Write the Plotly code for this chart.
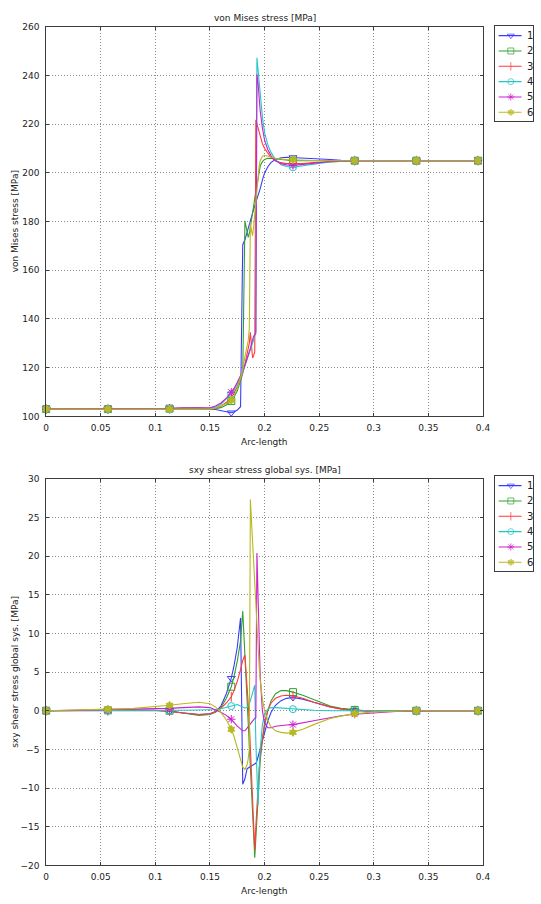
import plotly.graph_objects as go

# Arc-length sample positions shared by every series (m)
ARC = [0, 0.02, 0.0565, 0.08, 0.1, 0.113, 0.125, 0.14, 0.15, 0.155,
       0.16, 0.165, 0.1695, 0.172, 0.175, 0.178, 0.18, 0.182, 0.184, 0.185,
       0.186, 0.187, 0.188, 0.189, 0.19, 0.191, 0.192, 0.193, 0.194, 0.195,
       0.196, 0.198, 0.2, 0.203, 0.206, 0.21, 0.215, 0.22, 0.226, 0.235,
       0.245, 0.26, 0.27, 0.2825, 0.3, 0.32, 0.339, 0.36, 0.38, 0.3955]

# samples that carry a marker symbol
MARK_IDX = [0, 2, 5, 12, 38, 43, 46, 49]

SERIES = ["1", "2", "3", "4", "5", "6"]

# von Mises stress [MPa]
VM_1 = [103, 103, 103, 103, 103.1, 103.2, 103.3, 103.2, 103, 102.8,
        102.4, 101.8, 101.5, 101.8, 102.6, 104, 170.5, 172.5, 176, 177.5,
        179, 180.5, 182, 183.5, 185, 186.3, 187.6, 189, 190.5, 192,
        193.5, 197, 200, 202.5, 204.3, 205.5, 206.2, 206.4, 206.3, 206.2,
        205.9, 205.5, 205.2, 205, 205, 205, 205, 205, 205, 205]
VM_2 = [103, 103, 103, 103, 103.1, 103.2, 103.4, 103.5, 103.2, 103.2,
        103.6, 104.7, 106.3, 107.8, 110.5, 115, 117.5, 180.3, 176, 173.5,
        175, 177.5, 180, 183, 186.5, 189.5, 192.5, 195.5, 198.5, 201,
        202.8, 204.6, 205.5, 206, 206, 205.8, 205.5, 205.2, 205, 205,
        205, 205, 205, 205, 205, 205, 205, 205, 205, 205]
VM_3 = [103, 103, 103, 103, 103, 103.1, 103.2, 103.2, 103.1, 103.3,
        104.2, 105.8, 107.8, 109.5, 112.2, 115.5, 118, 121.5, 125.5, 127.5,
        130, 134.5, 128, 124, 125, 126.5, 221.8, 220, 218.2, 216.2,
        214.5, 212, 210, 208, 206.3, 205, 204.2, 203.8, 203.7, 203.8,
        204.2, 204.6, 204.8, 205, 205, 205, 205, 205, 205, 205]
VM_4 = [103, 103, 103, 102.9, 102.9, 103, 102.8, 102.9, 103.2, 103.8,
        105, 107, 109.2, 110.8, 113.2, 116, 118, 120.5, 123, 124.3,
        125.5, 127, 128.5, 130, 131.5, 133, 135, 247.3, 242, 236,
        231, 223, 216.5, 211.5, 208.3, 205.5, 203.3, 202.6, 202.3, 202.8,
        203.6, 204.5, 204.8, 205, 205, 205, 205, 205, 205, 205]
VM_5 = [103, 103, 103, 103, 103.1, 103.3, 103.5, 103.4, 103.5, 104.3,
        105.5, 107.5, 109.9, 111.5, 114, 116.5, 118.5, 121, 123.5, 125,
        126.5, 128, 129.8, 131.5, 133, 133.5, 134, 240.5, 237, 231,
        225.5, 218.5, 213.4, 209.5, 207, 205, 203.8, 203.3, 203.1, 203.5,
        204.1, 204.7, 204.9, 205, 205, 205, 205, 205, 205, 205]
VM_6 = [103, 103, 103, 103, 103, 103, 103, 103.1, 103, 103.4,
        104.2, 105.3, 106.6, 108.3, 111.5, 115.5, 119, 124.5, 128.5, 131,
        136, 179.6, 176.5, 174.2, 178, 183, 188.5, 194, 199, 202.5,
        205, 206.8, 207.2, 207, 206.5, 206, 205.7, 205.5, 205.4, 205.2,
        205.1, 205, 205, 205, 205, 205, 205, 205, 205, 205]

# sxy shear stress, global system [MPa]
SXY_1 = [0, 0, 0.05, 0.1, 0.05, -0.1, -0.3, -0.5, -0.4, -0.1,
         0.6, 2.2, 4.2, 5.8, 8.2, 12.0, -9.5, -8.8, -7.5, -7.4,
         -7.3, -7.2, -7.2, -7.1, -7.0, -6.9, -6.8, -6.5, -6.0, -5.4,
         -4.8, -3.7, -2.7, -1.3, -0.2, 0.7, 1.3, 1.6, 1.7, 1.5,
         1.1, 0.5, 0.25, 0.05, -0.05, 0, 0, 0, 0, 0]
SXY_2 = [0, 0, 0.05, 0.1, 0.05, 0, -0.3, -0.6, -0.5, -0.2,
         0.4, 1.6, 3.1, 4.4, 6.4, 9.0, 12.9, 7.5, 1.5, -1.5,
         -4.5, -7.5, -10, -13, -16, -19, -16.5, -13.5, -11, -8.5,
         -6.5, -3.8, -2, 0, 1.3, 2.2, 2.6, 2.6, 2.4, 2.0,
         1.4, 0.6, 0.3, 0.1, -0.1, -0.05, 0, 0, 0, 0]
SXY_3 = [0, 0, 0, 0.05, 0, -0.05, -0.3, -0.5, -0.4, -0.15,
         0.3, 1.0, 1.8, 2.6, 3.8, 5.3, 6.5, 7.2, 3.5, 1.0,
         -1.5, -4.5, -7.5, -11, -14.5, -18, -15, -12, -9.5, -7.5,
         -5.8, -3.3, -1.5, 0.1, 1.0, 1.6, 1.9, 2.0, 1.9, 1.6,
         1.1, 0.5, 0.2, 0, -0.1, -0.05, 0, 0, 0, 0]
SXY_4 = [0, 0, 0, 0, 0, 0, 0.05, 0.1, 0.1, 0.15,
         0.25, 0.45, 0.6, 0.75, 0.8, 0.6, 0.45, 0.35, 0.4, 0.6,
         0.9, 1.3, 1.8, 2.3, 2.8, 3.3, -4, -9.5, -12.2, -8,
         -5, -1.8, -0.4, 0.2, 0.4, 0.4, 0.35, 0.3, 0.2, 0.1,
         0.05, 0, 0, 0, 0, 0, 0, 0, 0, 0]
SXY_5 = [0, 0.05, 0.1, 0.15, 0.2, 0.3, 0.4, 0.5, 0.4, 0.15,
         -0.2, -0.6, -1.1, -1.5, -2.0, -2.4, -2.6, -2.6, -2.3, -2.1,
         -1.9, -1.7, -1.5, -1.3, -1.1, -1.0, -0.9, 20.4, 15, 9,
         4.5, 0, -1.6, -2.2, -2.2, -2.0, -1.9, -1.85, -1.8, -1.6,
         -1.3, -0.9, -0.65, -0.45, -0.25, -0.1, 0, 0, 0, 0]
SXY_6 = [0, 0.1, 0.2, 0.3, 0.5, 0.7, 0.9, 1.1, 0.9, 0.5,
         -0.2, -1.2, -2.4, -3.3, -4.8, -6.3, -7.3, -7.6, -7.0, -6.2,
         -5.0, 27.3, 24.5, 21.5, 18.5, 15.5, 12.5, 10, 7.8, 5.8,
         4.0, 1.5, 0, -1.3, -2.1, -2.6, -2.8, -2.9, -2.8, -2.4,
         -1.8, -1.0, -0.7, -0.4, -0.15, -0.05, 0, 0, 0, 0]

VM = [VM_1, VM_2, VM_3, VM_4, VM_5, VM_6]
SXY = [SXY_1, SXY_2, SXY_3, SXY_4, SXY_5, SXY_6]

COLORS = ["#3a3aff", "#30a030", "#ff3a3a", "#20c8c8", "#cc20cc", "#b8b820"]
SYMBOLS = ["triangle-down-open", "square-open", "line-ns-open",
           "circle-open", "asterisk-open", "hexagram"]
SIZES = [7, 7, 7, 7, 7, 6]

FONT = "DejaVu Sans"
TXT = "#222222"
W, H = 541, 904

# figure-pixel layout helpers (the paper spans the whole page)
def fx(p):
    return p / W


def fy(p):
    return 1 - p / H


PLOT_L, PLOT_R = 44, 489
PANELS = [
    dict(top=22, bottom=416, ax="", data=VM, yr=[100, 260], dt=20,
         title="von Mises stress [MPa]", ytitle="von Mises stress [MPa]",
         leg_top=21, leg_bottom=117),
    dict(top=479, bottom=870, ax="2", data=SXY, yr=[-20, 30], dt=5,
         title="sxy shear stress global sys. [MPa]",
         ytitle="sxy shear stress global sys. [MPa]",
         leg_top=476, leg_bottom=572),
]

fig = go.Figure()
layout = dict(
    width=W, height=H, autosize=False,
    margin=dict(l=0, r=0, t=0, b=0),
    paper_bgcolor="white", plot_bgcolor="white",
    showlegend=False,
    font=dict(family=FONT, size=9, color=TXT),
)
annotations = []

axis_common = dict(
    showgrid=True, gridcolor="#8c8c8c", griddash="1px,2px", gridwidth=1,
    zeroline=False, showline=True, linecolor="#3c3c3c", linewidth=1,
    mirror="ticks", ticks="inside", ticklen=3, tickcolor="#3c3c3c",
    tickfont=dict(family=FONT, size=9, color=TXT),
)

for k, p in enumerate(PANELS):
    xa, ya = "x" + p["ax"], "y" + p["ax"]
    layout["xaxis" + p["ax"]] = dict(
        axis_common, domain=[fx(PLOT_L), fx(PLOT_R)], anchor=ya,
        range=[0, 0.4], dtick=0.05, tick0=0, ticklabelstandoff=3)
    layout["yaxis" + p["ax"]] = dict(
        axis_common, domain=[fy(p["bottom"]), fy(p["top"])], anchor=xa,
        range=p["yr"], dtick=p["dt"], tick0=0, ticklabelstandoff=4)

    for i, name in enumerate(SERIES):
        vals = p["data"][i]
        fig.add_trace(go.Scatter(
            x=ARC, y=vals, mode="lines", name=name, xaxis=xa, yaxis=ya,
            line=dict(color=COLORS[i], width=1.1), hoverinfo="skip"))
        fig.add_trace(go.Scatter(
            x=[ARC[j] for j in MARK_IDX], y=[vals[j] for j in MARK_IDX],
            mode="markers", name=name, xaxis=xa, yaxis=ya, cliponaxis=False,
            marker=dict(symbol=SYMBOLS[i], size=SIZES[i], color=COLORS[i],
                        line=dict(color=COLORS[i], width=1)),
            hoverinfo="skip"))

    # panel title and axis titles
    cx = fx((PLOT_L + PLOT_R) / 2)
    annotations.append(dict(text=p["title"], x=cx, y=fy(p["top"] - 9),
                            xref="paper", yref="paper", showarrow=False,
                            xanchor="center", yanchor="middle",
                            font=dict(family=FONT, size=9, color=TXT)))
    annotations.append(dict(text="Arc-length", x=cx, y=fy(p["bottom"] + 26),
                            xref="paper", yref="paper", showarrow=False,
                            xanchor="center", yanchor="middle",
                            font=dict(family=FONT, size=9, color=TXT)))
    annotations.append(dict(text=p["ytitle"], x=fx(12),
                            y=fy((p["top"] + p["bottom"]) / 2),
                            xref="paper", yref="paper", showarrow=False,
                            textangle=-90, xanchor="center", yanchor="middle",
                            font=dict(family=FONT, size=9, color=TXT)))

    # legend box drawn on its own small axis pair
    lx, ly = "x" + str(3 + k), "y" + str(3 + k)
    box_h = p["leg_bottom"] - p["leg_top"]
    box_axis = dict(showline=True, mirror=True, linecolor="#3c3c3c",
                    linewidth=1, showgrid=False, zeroline=False,
                    showticklabels=False, ticks="", fixedrange=True)
    layout["xaxis" + str(3 + k)] = dict(box_axis, domain=[fx(501), fx(540)],
                                        anchor=ly, range=[0, 1])
    layout["yaxis" + str(3 + k)] = dict(box_axis,
                                        domain=[fy(p["leg_bottom"]), fy(p["leg_top"])],
                                        anchor=lx, range=[box_h, 0])
    for i, name in enumerate(SERIES):
        row = 10 + 15.5 * i
        fig.add_trace(go.Scatter(
            x=[0.1, 0.42, 0.7], y=[row, row, row], mode="lines+markers",
            xaxis=lx, yaxis=ly, showlegend=False, hoverinfo="skip",
            line=dict(color=COLORS[i], width=1.1),
            marker=dict(symbol=SYMBOLS[i], size=[0, SIZES[i] - 1, 0],
                        color=COLORS[i],
                        line=dict(color=COLORS[i], width=1))))
        annotations.append(dict(text=name, x=0.8, y=row, xref=lx, yref=ly,
                                showarrow=False, xanchor="left",
                                yanchor="middle",
                                font=dict(family=FONT, size=10, color=TXT)))

layout["annotations"] = annotations
fig.update_layout(**layout)
fig.write_html("out.html")
